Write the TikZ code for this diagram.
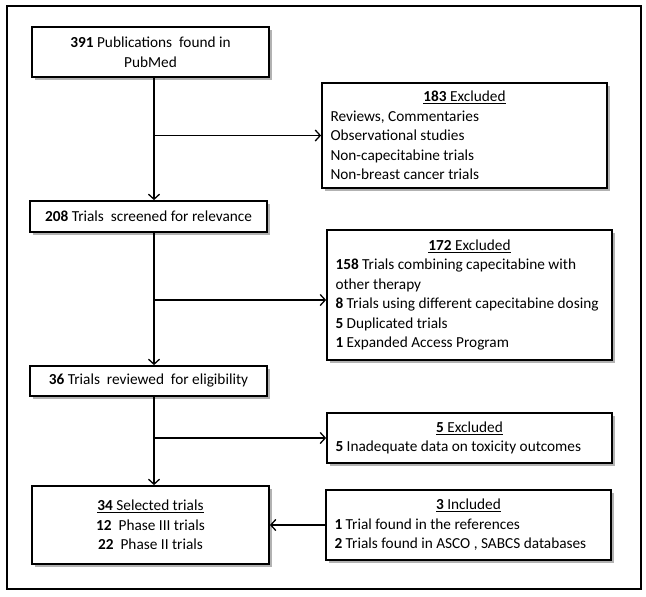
\documentclass[tikz,border=0pt]{standalone}
\usepackage{fontspec}
\setmainfont{Carlito}
\usetikzlibrary{arrows.meta,positioning,shadows}
\newcommand{\boxttl}[2]{\hfill\underline{\textbf{#1} #2}\hfill\null}

\begin{document}
\begin{tikzpicture}[x=1pt, y=-1pt,
  sbox/.style={rectangle, draw=black, line width=1.8pt, fill=white,
               minimum width=237pt, font=\fontsize{15.3}{19.5}\selectfont, align=center,
               drop shadow={shadow xshift=3pt, shadow yshift=-3pt, fill=black, opacity=0.3}},
  xbox/.style={sbox, minimum width=285pt, text width=268pt, align=flush left},
  farr/.style={-{Straight Barb[length=5pt,width=11pt]}, line width=1.3pt}
]
\useasboundingbox (0,0) rectangle (646,597);
% Outer frame
\draw[line width=2pt] (7,6) rectangle (641,589);

% Main flow
\node[sbox, minimum height=50pt] (pub) at (150.5,52) {\textbf{391} Publications\ \ found in\\PubMed};
\node[sbox, minimum height=31pt] (scr) at (148.5,216.5) {\textbf{208} Trials\ \ screened for relevance};
\node[sbox, minimum height=30pt] (rev) at (148.5,381) {\textbf{36} Trials\ \ reviewed\ \ for eligibility};
\node[sbox, minimum height=78pt] (sel) at (150.5,525) {\underline{\textbf{34} Selected trials}\\\textbf{12}\ \ Phase III trials\\\textbf{22}\ \ Phase II trials};

% Side boxes
\node[xbox, minimum height=105pt] (exa) at (464.5,135.5) {\boxttl{183}{Excluded}\\Reviews, Commentaries\\Observational studies\\Non-capecitabine trials\\Non-breast cancer trials};
\node[xbox, minimum height=130pt] (exb) at (469.5,295) {\boxttl{172}{Excluded}\\\textbf{158} Trials combining capecitabine with\\other therapy\\\textbf{8} Trials using different capecitabine dosing\\\textbf{5} Duplicated trials\\\textbf{1} Expanded Access Program};
\node[xbox, minimum height=50pt] (exc) at (469.5,438) {\boxttl{5}{Excluded}\\\textbf{5} Inadequate data on toxicity outcomes};
\node[xbox, minimum height=70pt] (inc) at (468.5,525) {\boxttl{3}{Included}\\\textbf{1} Trial found in the references\\\textbf{2} Trials found in ASCO , SABCS databases};

% Arrows
\coordinate (spine) at (154,0);
\coordinate (exbin) at ([yshift=-5pt]exb.west);
\draw[farr] (pub.south -| spine) -- (scr.north -| spine);
\draw[farr] (scr.south -| spine) -- (rev.north -| spine);
\draw[farr] (rev.south -| spine) -- (sel.north -| spine);
\draw[farr] (spine |- exa.west) -- (exa.west);
\draw[farr] (spine |- exbin) -- (exbin);
\draw[farr] (spine |- exc.west) -- (exc.west);
\draw[farr] (inc.west) -- (sel.east);
\end{tikzpicture}
\end{document}
